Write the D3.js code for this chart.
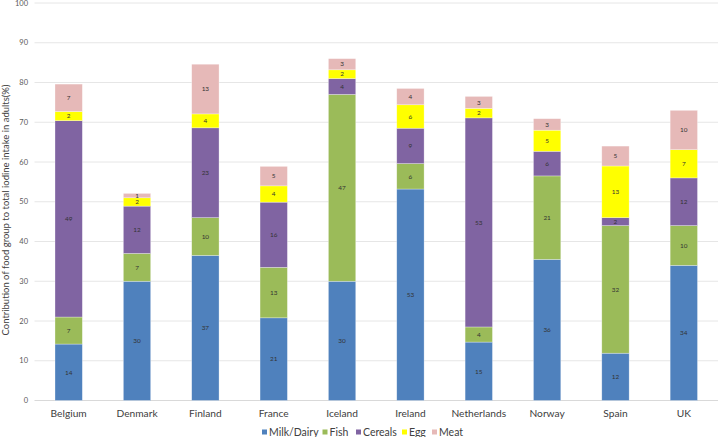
<!DOCTYPE html>
<html>
<head>
<meta charset="utf-8">
<script src="https://cdn.jsdelivr.net/npm/d3@7"></script>
<style>
  body { margin: 0; background: #fff; }
  svg { font-family: Lato, "Open Sans", sans-serif; }
</style>
</head>
<body>
<svg id="chart" width="718" height="437"></svg>
<script>
// stacked bars: contribution of food groups to iodine intake

var countries = ["Belgium", "Denmark", "Finland", "France", "Iceland", "Ireland", "Netherlands", "Norway", "Spain", "UK"];
var groups = ["Milk/Dairy", "Fish", "Cereals", "Egg", "Meat"];
var colors = ["#4F81BD", "#9BBB59", "#8064A2", "#FFFF00", "#E6B9B8"];

var milk    = [14.2, 30.0, 36.5, 20.8, 30.0, 53.2, 14.7, 35.5, 11.9, 34.0];
var fish    = [6.8, 7.0, 9.5, 12.7, 47.0, 6.4, 3.8, 21.0, 32.1, 10.0];
var cereals = [49.4, 11.9, 22.6, 16.4, 4.0, 8.9, 52.6, 6.2, 2.0, 12.0];
var egg     = [2.3, 2.1, 3.5, 4.1, 2.2, 5.9, 2.4, 5.3, 13.0, 7.1];
var meat    = [6.9, 1.1, 12.5, 4.9, 2.8, 4.1, 3.0, 2.9, 5.0, 9.9];

var yTicks = [0, 10, 20, 30, 40, 50, 60, 70, 80, 90, 100];

var series = [milk, fish, cereals, egg, meat];
var rows = countries.map(function(c, i) {
    var r = {country: c};
    groups.forEach(function(g, j) { r[g] = series[j][i]; });
    return r;
});

var svg = d3.select("#chart"),
    margin = {top: 3, right: 0, bottom: 36, left: 34.5},
    width = 718 - margin.left - margin.right,
    height = 400.5 - margin.top,
    g = svg.append("g").attr("transform", "translate(" + margin.left + "," + margin.top + ")");

var x = d3.scaleBand().domain(countries).range([0, width]).paddingInner(0.6).paddingOuter(0.3);
var y = d3.scaleLinear().domain([0, 100]).range([height, 0]);
var z = d3.scaleOrdinal().domain(groups).range(colors);

// gridlines
g.append("g").selectAll("line")
    .data(yTicks)
    .enter().append("line")
    .attr("x1", 0).attr("x2", width)
    .attr("y1", function(d) { return y(d); })
    .attr("y2", function(d) { return y(d); })
    .attr("stroke", function(d) { return d === 0 ? "#d9d9d9" : "#e6e6e6"; })
    .attr("stroke-width", 1);

// y tick labels
g.append("g").selectAll("text")
    .data(yTicks)
    .enter().append("text")
    .attr("x", -6.5)
    .attr("y", function(d) { return y(d); })
    .attr("dy", "0.35em")
    .attr("text-anchor", "end")
    .attr("font-size", 7.5)
    .attr("fill", "#595959")
    .text(function(d) { return d; });

var stacked = d3.stack().keys(groups)(rows);

var layer = g.append("g").selectAll("g")
    .data(stacked)
    .enter().append("g")
    .attr("fill", function(d) { return z(d.key); });

layer.selectAll("rect")
    .data(function(d) { return d; })
    .enter().append("rect")
    .attr("x", function(d) { return x(d.data.country); })
    .attr("y", function(d) { return y(d[1]); })
    .attr("width", x.bandwidth())
    .attr("height", function(d) { return y(d[0]) - y(d[1]); })
    .attr("stroke", "rgba(255,255,255,0.5)")
    .attr("stroke-width", 0.6);

layer.selectAll("text")
    .data(function(d) { return d; })
    .enter().append("text")
    .attr("x", function(d) { return x(d.data.country) + x.bandwidth() / 2; })
    .attr("y", function(d) { return (y(d[0]) + y(d[1])) / 2; })
    .attr("dy", "0.35em")
    .attr("text-anchor", "middle")
    .attr("font-size", 6.4)
    .attr("fill", "#333")
    .text(function(d) { return Math.round(d[1] - d[0]); });

// category labels
g.append("g").selectAll("text")
    .data(countries)
    .enter().append("text")
    .attr("x", function(d) { return x(d) + x.bandwidth() / 2; })
    .attr("y", height + 13)
    .attr("dy", "0.35em")
    .attr("text-anchor", "middle")
    .attr("font-size", 10.2)
    .attr("fill", "#404040")
    .text(function(d) { return d; });

// y axis title
svg.append("text")
    .attr("transform", "translate(6,210) rotate(-90)")
    .attr("text-anchor", "middle")
    .attr("dy", "0.35em")
    .attr("font-size", 9.5)
    .attr("fill", "#404040")
    .text("Contribution of food group to total iodine intake in adults(%)");

// legend
var legendX = [262, 322.5, 356, 402, 432];
var leg = svg.append("g").selectAll("g")
    .data(groups)
    .enter().append("g")
    .attr("transform", function(d, i) { return "translate(" + legendX[i] + ",432)"; });
leg.append("rect")
    .attr("x", 0).attr("y", -2.5)
    .attr("width", 5).attr("height", 5)
    .attr("fill", function(d) { return z(d); });
leg.append("text")
    .attr("x", 7)
    .attr("dy", "0.35em")
    .attr("font-size", 10.5)
    .attr("fill", "#404040")
    .text(function(d) { return d; });
</script>
</body>
</html>
